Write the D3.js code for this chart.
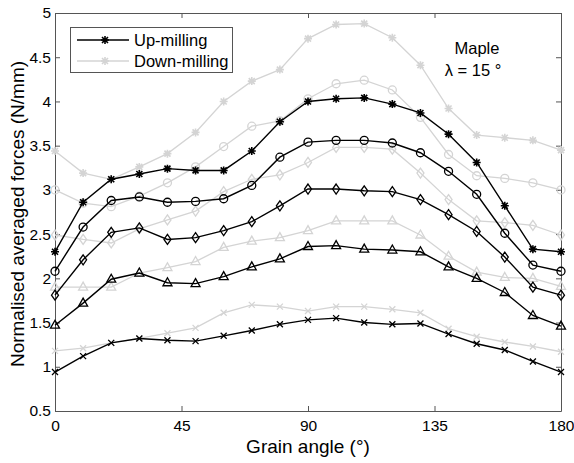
<!DOCTYPE html>
<html>
<head>
<meta charset="utf-8">
<script src="https://cdn.jsdelivr.net/npm/d3@7"></script>
<style>
  body { margin: 0; background: #fff; }
  text { font-family: "Liberation Sans", Arial, sans-serif; }
</style>
</head>
<body>
<div id="chart-area"></div>
<script>
// grain angles (deg)
var angles = [0, 10, 20, 30, 40, 50, 60, 70, 80, 90, 100, 110, 120, 130, 140, 150, 160, 170, 180];

// up-milling (black)
var upStar   = [2.30, 2.86, 3.12, 3.18, 3.24, 3.22, 3.22, 3.44, 3.77, 4.00, 4.03, 4.04, 3.97, 3.87, 3.63, 3.31, 2.82, 2.33, 2.30];
var upCircle = [2.08, 2.58, 2.88, 2.92, 2.86, 2.87, 2.90, 3.05, 3.37, 3.54, 3.56, 3.56, 3.53, 3.42, 3.21, 2.95, 2.51, 2.15, 2.08];
var upDiam   = [1.81, 2.21, 2.52, 2.57, 2.44, 2.46, 2.54, 2.64, 2.82, 3.01, 3.01, 2.99, 2.98, 2.89, 2.72, 2.53, 2.24, 1.90, 1.81];
var upTri    = [1.47, 1.72, 1.99, 2.06, 1.95, 1.94, 2.02, 2.13, 2.22, 2.36, 2.37, 2.33, 2.32, 2.30, 2.13, 2.00, 1.84, 1.58, 1.46];
var upX      = [0.94, 1.12, 1.27, 1.32, 1.30, 1.29, 1.35, 1.41, 1.48, 1.53, 1.55, 1.50, 1.48, 1.49, 1.37, 1.26, 1.19, 1.06, 0.94];

// down-milling (grey)
var dnStar   = [3.44, 3.19, 3.12, 3.26, 3.41, 3.65, 4.00, 4.23, 4.36, 4.71, 4.87, 4.88, 4.72, 4.41, 3.92, 3.62, 3.59, 3.56, 3.45];
var dnCircle = [3.00, 2.85, 2.81, 2.93, 3.08, 3.26, 3.49, 3.72, 3.78, 4.03, 4.20, 4.24, 4.13, 3.82, 3.40, 3.16, 3.13, 3.08, 3.00];
var dnDiam   = [2.49, 2.44, 2.40, 2.56, 2.66, 2.76, 2.98, 3.12, 3.17, 3.31, 3.48, 3.48, 3.46, 3.19, 2.89, 2.65, 2.63, 2.60, 2.49];
var dnTri    = [1.90, 1.90, 1.90, 2.06, 2.12, 2.19, 2.35, 2.42, 2.46, 2.54, 2.65, 2.65, 2.65, 2.49, 2.25, 2.07, 2.01, 2.00, 1.91];
var dnX      = [1.18, 1.21, 1.27, 1.32, 1.38, 1.44, 1.61, 1.70, 1.68, 1.63, 1.68, 1.68, 1.65, 1.61, 1.43, 1.34, 1.28, 1.23, 1.17];

var xTicks = [0, 45, 90, 135, 180];
var yTicks = [0.5, 1, 1.5, 2, 2.5, 3, 3.5, 4, 4.5, 5];
var legendLabels = ["Up-milling", "Down-milling"];

var black = "#000", grey = "#d4d4d4";

var series = [
  {vals: dnStar, color: grey, mark: "star"},
  {vals: dnCircle, color: grey, mark: "circle"},
  {vals: dnDiam, color: grey, mark: "diamond"},
  {vals: dnTri, color: grey, mark: "triangle"},
  {vals: dnX, color: grey, mark: "x"},
  {vals: upStar, color: black, mark: "star"},
  {vals: upCircle, color: black, mark: "circle"},
  {vals: upDiam, color: black, mark: "diamond"},
  {vals: upTri, color: black, mark: "triangle"},
  {vals: upX, color: black, mark: "x"}
];

var W = 574, H = 463;
var m = {left: 55, right: 13, top: 13, bottom: 52};

var svg = d3.select("#chart-area").append("svg")
  .attr("width", W)
  .attr("height", H);

var x = d3.scaleLinear().domain([0, 180]).range([m.left, W - m.right]);
var y = d3.scaleLinear().domain([0.5, 5]).range([H - m.bottom, m.top]);

var axisCol = "#555";

// box with inward ticks on all four sides
function styleAxis(g) {
  g.select(".domain").attr("stroke", axisCol);
  g.selectAll(".tick line").attr("stroke", axisCol);
  g.selectAll(".tick text").attr("fill", "#000").style("font-size", "15.5px");
}
svg.append("g").attr("transform", "translate(0," + (H - m.bottom) + ")")
  .call(d3.axisBottom(x).tickValues(xTicks).tickSizeInner(-5).tickSizeOuter(0).tickPadding(9))
  .call(styleAxis);
svg.append("g").attr("transform", "translate(0," + m.top + ")")
  .call(d3.axisTop(x).tickValues(xTicks).tickSizeInner(-5).tickSizeOuter(0).tickFormat(""))
  .call(styleAxis);
svg.append("g").attr("transform", "translate(" + m.left + ",0)")
  .call(d3.axisLeft(y).tickValues(yTicks).tickSizeInner(-5).tickSizeOuter(0).tickPadding(4).tickFormat(d3.format("")))
  .call(styleAxis);
svg.append("g").attr("transform", "translate(" + (W - m.right) + ",0)")
  .call(d3.axisRight(y).tickValues(yTicks).tickSizeInner(-5).tickSizeOuter(0).tickFormat(""))
  .call(styleAxis);

// markers
function drawMark(g, kind, cx, cy, col) {
  if (kind === "circle") {
    g.append("circle").attr("cx", cx).attr("cy", cy).attr("r", 4)
      .attr("fill", "none").attr("stroke", col).attr("stroke-width", 1.3);
  } else if (kind === "diamond") {
    g.append("path").attr("d", "M" + cx + "," + (cy - 5) + "L" + (cx + 3.5) + "," + cy + "L" + cx + "," + (cy + 5) + "L" + (cx - 3.5) + "," + cy + "Z")
      .attr("fill", "none").attr("stroke", col).attr("stroke-width", 1.3);
  } else if (kind === "triangle") {
    g.append("path").attr("d", "M" + cx + "," + (cy - 5) + "L" + (cx + 4.5) + "," + (cy + 3) + "L" + (cx - 4.5) + "," + (cy + 3) + "Z")
      .attr("fill", "none").attr("stroke", col).attr("stroke-width", 1.3);
  } else if (kind === "x") {
    g.append("path").attr("d", "M" + (cx - 3) + "," + (cy - 3) + "L" + (cx + 3) + "," + (cy + 3) + "M" + (cx - 3) + "," + (cy + 3) + "L" + (cx + 3) + "," + (cy - 3))
      .attr("stroke", col).attr("stroke-width", 1.3);
  } else if (kind === "star") {
    g.append("path").attr("d", "M" + (cx - 3) + "," + (cy - 3) + "L" + (cx + 3) + "," + (cy + 3) + "M" + (cx - 3) + "," + (cy + 3) + "L" + (cx + 3) + "," + (cy - 3)
        + "M" + cx + "," + (cy - 4) + "L" + cx + "," + (cy + 4) + "M" + (cx - 4) + "," + cy + "L" + (cx + 4) + "," + cy)
      .attr("stroke", col).attr("stroke-width", 1.6);
  }
}

var line = d3.line()
  .x((d, i) => x(angles[i]))
  .y((d) => y(d));

series.forEach((s) => {
  var g = svg.append("g");
  g.append("path").datum(s.vals)
    .attr("d", line)
    .attr("fill", "none")
    .attr("stroke", s.color)
    .attr("stroke-width", s.color === black ? 1.4 : 1.3);
  s.vals.forEach((v, i) => drawMark(g, s.mark, x(angles[i]), y(v), s.color));
});

// legend
var lg = svg.append("g");
lg.append("rect").attr("x", 70.5).attr("y", 27.5).attr("width", 162).attr("height", 45)
  .attr("fill", "#fff").attr("stroke", axisCol).attr("stroke-width", 1);
legendLabels.forEach((lab, i) => {
  var ly = 40 + i * 21;
  var col = i === 0 ? black : grey;
  lg.append("line").attr("x1", 77).attr("x2", 129).attr("y1", ly).attr("y2", ly)
    .attr("stroke", col).attr("stroke-width", 1.4);
  drawMark(lg, "star", 105, ly, col);
  lg.append("text").attr("x", 134).attr("y", ly + 6).text(lab)
    .style("font-size", "16.5px");
});

// annotation
svg.append("text").attr("x", 477).attr("y", 54).attr("text-anchor", "middle")
  .style("font-size", "16.5px").text("Maple");
svg.append("text").attr("x", 473).attr("y", 76).attr("text-anchor", "middle")
  .style("font-size", "16.5px").text("λ = 15 °");

// axis labels
svg.append("text").attr("x", (m.left + W - m.right) / 2).attr("y", 453)
  .attr("text-anchor", "middle").style("font-size", "19px").text("Grain angle (°)");
svg.append("text").attr("transform", "translate(24," + ((m.top + H - m.bottom) / 2 + 2) + ") rotate(-90)")
  .attr("text-anchor", "middle").style("font-size", "19px").text("Normalised averaged forces (N/mm)");
</script>
</body>
</html>
